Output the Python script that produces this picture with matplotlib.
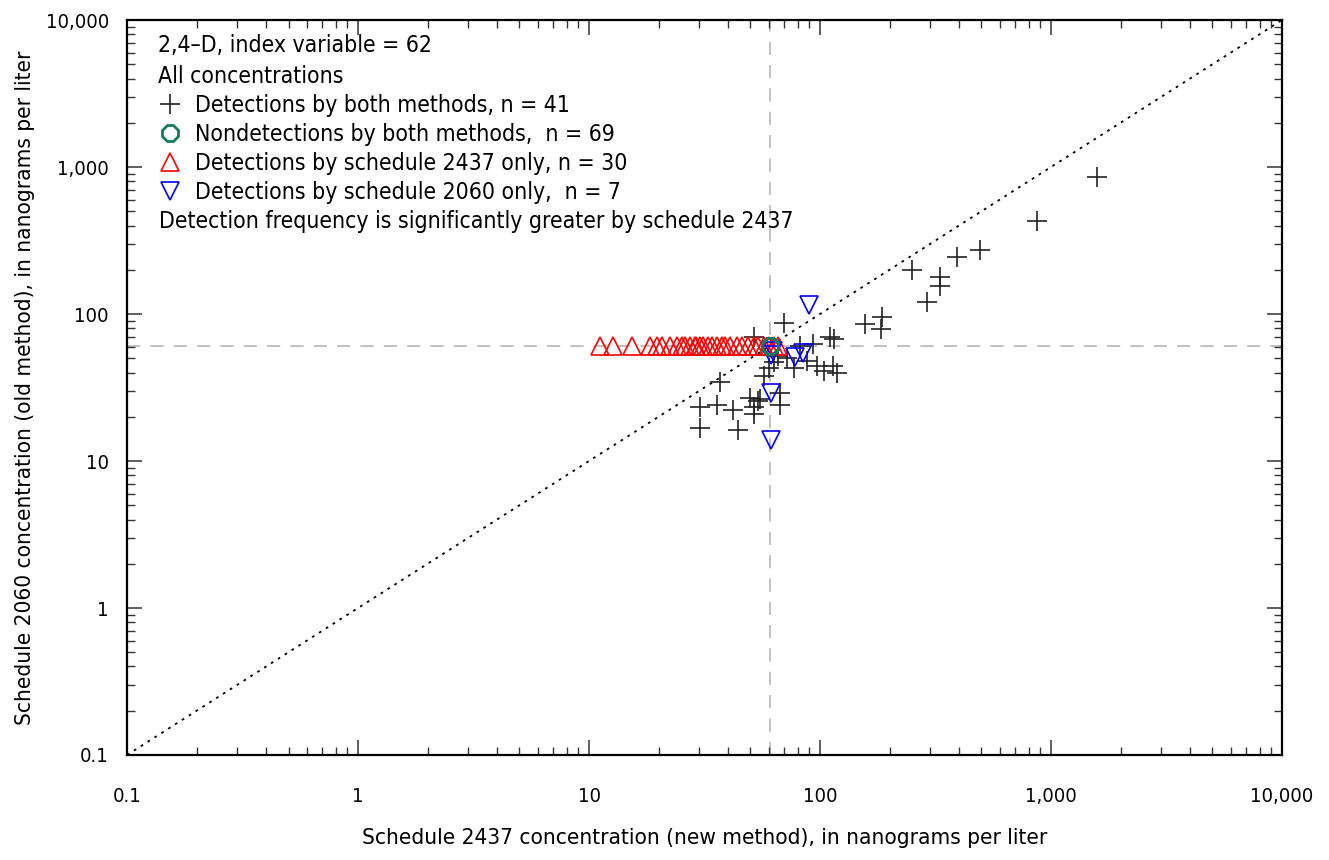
import matplotlib
matplotlib.use("Agg")
import matplotlib.pyplot as plt
from matplotlib.ticker import FixedLocator, LogLocator, NullFormatter, FixedFormatter

plt.rcParams['font.family'] = ['DejaVu Sans']
plt.rcParams['font.stretch'] = 'condensed'

# Detections by both methods (schedule 2437 = x, schedule 2060 = y), ng/L
both_x = [1580, 869, 493, 391, 250, 331, 332, 290, 185, 184, 156, 110, 115,
          70, 52, 82, 93, 97, 114, 118, 77, 57, 37, 30.3, 35.7, 42, 52, 54,
          55, 52, 67, 67, 30.3, 44.3, 88, 104, 63, 66, 60, 72, 50]
both_y = [855, 430, 272, 245, 199, 178, 155, 121, 96, 79, 86, 70, 68,
          86.5, 70, 61, 63, 44, 44, 39.5, 43, 38, 34.6, 23.4, 24, 22.2, 23.4, 25.5,
          26.6, 21, 24, 29, 16.7, 16.3, 48, 41, 47, 52, 43, 50, 27]

# Nondetections by both methods (plotted at the reporting level)
non_n = 69
non_x = [61] * non_n
non_y = [61] * non_n

# Detections by schedule 2437 only
new_x = [11.2, 12.7, 15.3, 18.4, 19.6, 20.6, 22.4, 24.0, 25.2, 26.0, 27.4, 28.8,
         29.0, 30.2, 31.3, 32.9, 34.0, 35.7, 37.5, 38.8, 40.8, 43.6, 45.8, 49.0,
         52, 54, 57, 60, 63, 66]
new_y = [61] * len(new_x)

# Detections by schedule 2060 only
old_x = [89.6, 61.4, 62.5, 78, 84, 61.4, 61.4]
old_y = [115, 52.6, 56, 51, 54, 29, 13.9]

ref_level = 61
ticks = [0.1, 1, 10, 100, 1000, 10000]
tick_labels = ['0.1', '1', '10', '100', '1,000', '10,000']

fig = plt.figure(figsize=(13.29, 8.6), dpi=100)
ax = fig.add_axes([0.0956, 0.1221, 0.8690, 0.8546])
ax.set_xscale('log')
ax.set_yscale('log')
ax.set_xlim(0.1, 10000)
ax.set_ylim(0.1, 10000)

ax.plot([0.1, 10000], [0.1, 10000], color='black', linestyle=(0, (1.5, 3)), linewidth=1.3, zorder=1)
ax.axvline(ref_level, color='#b8b8b8', linestyle=(0, (8, 6)), linewidth=1.2, zorder=1)
ax.axhline(ref_level, color='#b8b8b8', linestyle=(0, (8, 6)), linewidth=1.2, zorder=1)

h_both, = ax.plot(both_x, both_y, linestyle='none', marker='+', markersize=14,
                  markeredgewidth=1.2, color='#222222', zorder=3)
h_new, = ax.plot(new_x, new_y, linestyle='none', marker='^', markersize=13,
                 markerfacecolor='none', markeredgecolor='#ff0000', markeredgewidth=1.2, zorder=4)
h_old, = ax.plot(old_x, old_y, linestyle='none', marker='v', markersize=13,
                 markerfacecolor='none', markeredgecolor='#0000ff', markeredgewidth=1.2, zorder=4)
h_non, = ax.plot(non_x, non_y, linestyle='none', marker='8', markersize=12,
                 markerfacecolor='none', markeredgecolor='#137a5a', markeredgewidth=2, zorder=5)

ax.xaxis.set_major_locator(FixedLocator(ticks))
ax.yaxis.set_major_locator(FixedLocator(ticks))
ax.xaxis.set_major_formatter(FixedFormatter(tick_labels))
ax.yaxis.set_major_formatter(FixedFormatter(tick_labels))
ax.xaxis.set_minor_locator(LogLocator(base=10, subs=range(2, 10), numticks=20))
ax.yaxis.set_minor_locator(LogLocator(base=10, subs=range(2, 10), numticks=20))
ax.xaxis.set_minor_formatter(NullFormatter())
ax.yaxis.set_minor_formatter(NullFormatter())
ax.tick_params(which='both', direction='in', top=True, right=True, color='#333333')
ax.tick_params(which='major', length=11, width=1.1, labelsize=14.5)
ax.tick_params(which='minor', length=5.5, width=1.0)
ax.tick_params(axis='x', which='major', pad=23)
ax.tick_params(axis='y', which='major', pad=13)
for s in ax.spines.values():
    s.set_linewidth(1.6)

ax.set_xlabel('Schedule 2437 concentration (new method), in nanograms per liter', fontsize=16.2, labelpad=16)
ax.set_ylabel('Schedule 2060 concentration (old method), in nanograms per liter', fontsize=16.2, labelpad=8)

handles = [h_both, h_non, h_new, h_old]
labels = ['Detections by both methods, n = 41',
          'Nondetections by both methods,  n = 69',
          'Detections by schedule 2437 only, n = 30',
          'Detections by schedule 2060 only,  n = 7']
leg = ax.legend(handles, labels, loc='upper left', frameon=False, fontsize=16.5,
                title='2,4\u2013D, index variable = 62\nAll concentrations', title_fontsize=16.5,
                alignment='left', handlelength=1.0, handletextpad=0.6, labelspacing=0.26,
                borderaxespad=0.2, bbox_to_anchor=(0.015, 1.0), numpoints=1)
leg.get_title().set_linespacing(1.45)
ax.text(0.028, 0.726, 'Detection frequency is significantly greater by schedule 2437',
        transform=ax.transAxes, fontsize=16.5, va='center', ha='left')

fig.savefig('out.png', dpi=100)
